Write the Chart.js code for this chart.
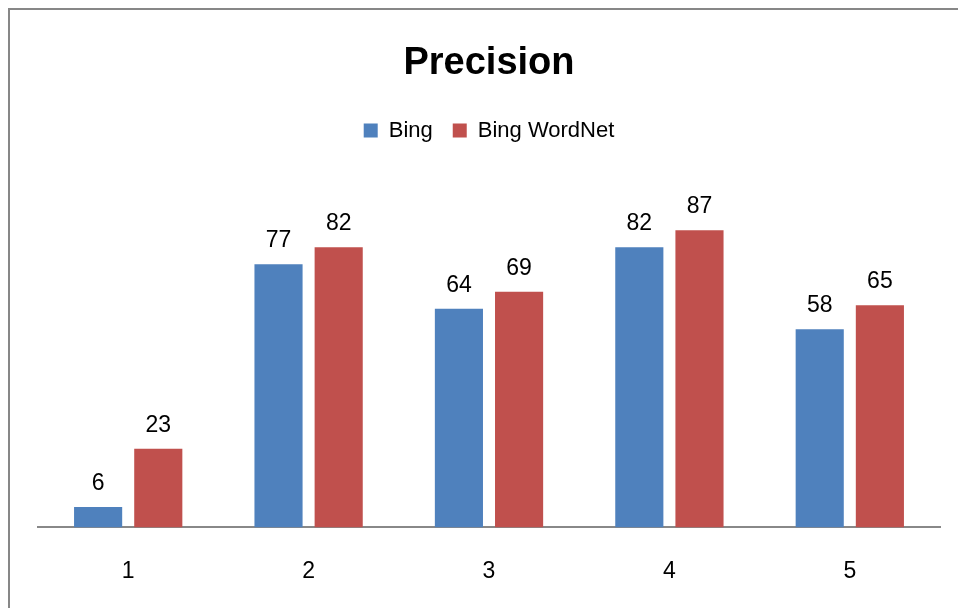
<!DOCTYPE html>
<html>
<head>
<meta charset="utf-8">
<script src="https://cdn.jsdelivr.net/npm/chart.js@4"></script>
<style>
  html, body { margin: 0; padding: 0; background: #fff; overflow: hidden; }
  #wrap { position: relative; width: 958px; height: 608px; }
  #frame {
    position: absolute; left: 8px; top: 8px; width: 1200px; height: 1200px;
    border: 2.5px solid #878787; box-sizing: border-box; pointer-events: none;
  }
</style>
</head>
<body>
<div id="wrap">
  <canvas id="precisionChart" width="958" height="608"></canvas>
  <div id="frame"></div>
</div>
<script>
// Chart data
const categories = ['1', '2', '3', '4', '5'];
const bingValues = [6, 77, 64, 82, 58];
const bingWordNetValues = [23, 82, 69, 87, 65];
const seriesNames = ['Bing', 'Bing WordNet'];

const FONT = "'Liberation Sans', Arial, sans-serif";

// Draw value labels above each bar
const valueLabels = {
    id: 'valueLabels',
    afterDatasetsDraw(chart) {
        const ctx = chart.ctx;
        ctx.save();
        ctx.font = '23px ' + FONT;
        ctx.fillStyle = '#000';
        ctx.textAlign = 'center';
        ctx.textBaseline = 'alphabetic';
        chart.data.datasets.forEach((ds, i) => {
            chart.getDatasetMeta(i).data.forEach((bar, j) => {
                ctx.fillText(String(ds.data[j]), bar.x, bar.y - 17);
            });
        });
        ctx.restore();
    }
};

new Chart(document.getElementById('precisionChart'), {
    type: 'bar',
    data: {
        labels: categories,
        datasets: [
            {
                label: seriesNames[0],
                data: bingValues,
                backgroundColor: '#4F81BD',
                barPercentage: 0.8,
                categoryPercentage: 0.667
            },
            {
                label: seriesNames[1],
                data: bingWordNetValues,
                backgroundColor: '#C0504D',
                barPercentage: 0.8,
                categoryPercentage: 0.667
            }
        ]
    },
    options: {
        responsive: false,
        animation: false,
        layout: {
            padding: { left: 38, right: 18, top: 8, bottom: -7 }
        },
        plugins: {
            title: {
                display: true,
                text: 'Precision',
                color: '#000',
                font: { family: FONT, size: 38, weight: 'bold' },
                padding: { top: 33, bottom: 13 }
            },
            legend: {
                display: true,
                labels: {
                    color: '#000',
                    font: { family: FONT, size: 22 },
                    boxWidth: 14,
                    boxHeight: 14,
                    padding: 20
                }
            },
            tooltip: { enabled: false }
        },
        scales: {
            x: {
                grid: { display: false, drawTicks: false },
                border: { display: true, color: '#888888', width: 2 },
                ticks: {
                    color: '#000',
                    font: { family: FONT, size: 23 },
                    padding: 30
                }
            },
            y: {
                display: false,
                min: 0,
                max: 110
            }
        }
    },
    plugins: [valueLabels]
});
</script>
</body>
</html>
